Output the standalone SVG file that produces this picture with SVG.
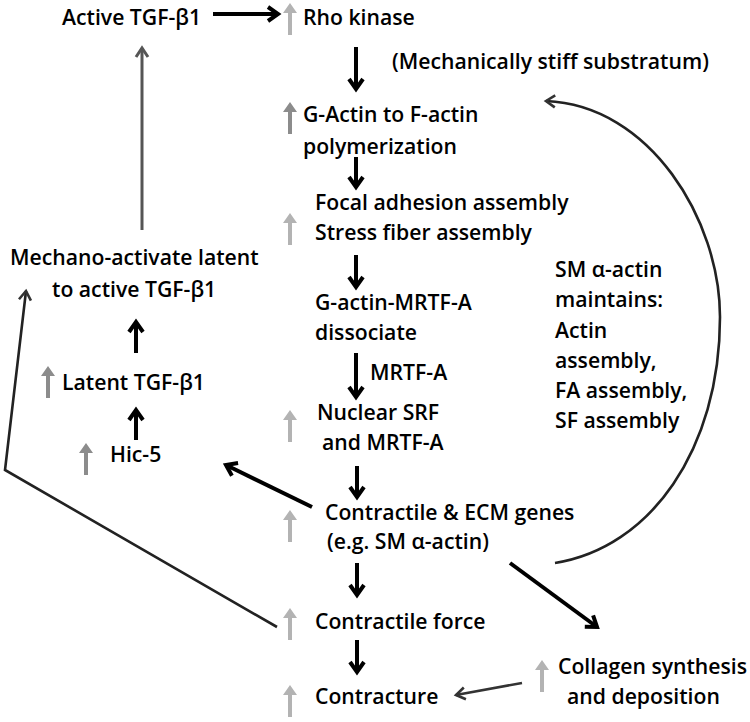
<svg xmlns="http://www.w3.org/2000/svg" width="750" height="722" viewBox="0 0 750 722">
<style>
  text { font-family: "Open Sans", "Liberation Sans", sans-serif; font-weight: 600; font-size: 21.2px; fill: #000; }
  .blk { stroke: #000; stroke-width: 4; fill: none; }
  .lg { fill: #b3b3b3; }
  .dg { fill: #8c8c8c; }
</style>
<defs>
  <marker id="hb" viewBox="-16 -10 20 20" markerWidth="20" markerHeight="20" refX="0" refY="0" orient="auto" markerUnits="userSpaceOnUse">
    <path d="M-10,-7 L0,0 L-10,7" fill="none" stroke="#000" stroke-width="4"/>
  </marker>
  <marker id="hg" viewBox="-16 -10 20 20" markerWidth="20" markerHeight="20" refX="0" refY="0" orient="auto" markerUnits="userSpaceOnUse">
    <path d="M-9,-6 L0,0 L-9,6" fill="none" stroke="#555" stroke-width="3"/>
  </marker>
  <marker id="hd" viewBox="-16 -10 20 20" markerWidth="20" markerHeight="20" refX="0" refY="0" orient="auto" markerUnits="userSpaceOnUse">
    <path d="M-9,-6 L0,0 L-9,6" fill="none" stroke="#333" stroke-width="2.6"/>
  </marker>
  <path id="up" d="M0,0 L7,10 L2,10 L2,32 L-2,32 L-2,10 L-7,10 Z"/>
</defs>

<g id="connectors">
  <line class="blk" x1="213" y1="14" x2="278" y2="14" marker-end="url(#hb)"/>
  <line class="blk" x1="356" y1="47" x2="356" y2="89" marker-end="url(#hb)"/>
  <line class="blk" x1="356" y1="157" x2="356" y2="187" marker-end="url(#hb)"/>
  <line class="blk" x1="356" y1="255" x2="356" y2="287" marker-end="url(#hb)"/>
  <line class="blk" x1="356" y1="353" x2="356" y2="397" marker-end="url(#hb)"/>
  <line class="blk" x1="357" y1="466" x2="357" y2="497" marker-end="url(#hb)"/>
  <line class="blk" x1="357" y1="563" x2="357" y2="595" marker-end="url(#hb)"/>
  <line class="blk" x1="357" y1="640" x2="357" y2="672" marker-end="url(#hb)"/>
  <line class="blk" x1="136" y1="353" x2="136" y2="322" marker-end="url(#hb)"/>
  <line class="blk" x1="136" y1="440" x2="136" y2="410" marker-end="url(#hb)"/>
  <line class="blk" x1="312" y1="507" x2="226" y2="465" stroke-width="4.5" marker-end="url(#hb)"/>
  <line class="blk" x1="510" y1="563" x2="597" y2="627" stroke-width="4.5" marker-end="url(#hb)"/>
  <line x1="522" y1="683" x2="456" y2="695" stroke="#333" stroke-width="2.6" marker-end="url(#hd)"/>
  <line x1="142" y1="230" x2="142" y2="48" stroke="#555" stroke-width="3" marker-end="url(#hg)"/>
  <polyline points="277,627 5,470 26,291" fill="none" stroke="#222" stroke-width="2.6" marker-end="url(#hd)"/>
  <path d="M555,563 C650,548 720,450 720,317 C720,220 650,105 546,101" fill="none" stroke="#222" stroke-width="2.6" marker-end="url(#hd)"/>
</g>

<g id="up-arrows">
  <use href="#up" class="lg" transform="translate(290,3)"/>
  <use href="#up" class="dg" transform="translate(290,102)"/>
  <use href="#up" class="lg" transform="translate(290,213)"/>
  <use href="#up" class="lg" transform="translate(290,410)"/>
  <use href="#up" class="lg" transform="translate(290,510)"/>
  <use href="#up" class="lg" transform="translate(290,608)"/>
  <use href="#up" class="lg" transform="translate(290,685)"/>
  <use href="#up" class="lg" transform="translate(542,660)"/>
  <use href="#up" class="dg" transform="translate(48,366)"/>
  <use href="#up" class="dg" transform="translate(86,443)"/>
</g>

<g id="active-tgf"><text x="62" y="25">Active TGF-β1</text></g>
<g id="rho"><text x="303" y="25">Rho kinase</text></g>
<g id="stiff"><text x="392" y="69">(Mechanically stiff substratum)</text></g>
<g id="gactin"><text x="303" y="122">G-Actin to F-actin</text><text x="303" y="154">polymerization</text></g>
<g id="focal"><text x="315" y="210">Focal adhesion assembly</text><text x="315" y="240">Stress fiber assembly</text></g>
<g id="dissociate"><text x="315" y="310">G-actin-MRTF-A</text><text x="315" y="340">dissociate</text></g>
<g id="mrtf-label"><text x="370" y="380">MRTF-A</text></g>
<g id="nuclear"><text x="317" y="420">Nuclear SRF</text><text x="322" y="450">and MRTF-A</text></g>
<g id="genes"><text x="325" y="520">Contractile &amp; ECM genes</text><text x="327" y="549">(e.g. SM α-actin)</text></g>
<g id="force"><text x="315" y="629">Contractile force</text></g>
<g id="contracture"><text x="315" y="704">Contracture</text></g>
<g id="collagen"><text x="558" y="674">Collagen synthesis</text><text x="567" y="704">and deposition</text></g>
<g id="sm-maintains">
  <text x="555" y="277">SM α-actin</text>
  <text x="555" y="307">maintains:</text>
  <text x="555" y="338">Actin</text>
  <text x="555" y="368">assembly,</text>
  <text x="555" y="398">FA assembly,</text>
  <text x="555" y="428">SF assembly</text>
</g>
<g id="mechano"><text x="10" y="265">Mechano-activate latent</text><text x="52" y="297">to active TGF-β1</text></g>
<g id="latent"><text x="62" y="390">Latent TGF-β1</text></g>
<g id="hic5"><text x="110" y="462">Hic-5</text></g>
</svg>
